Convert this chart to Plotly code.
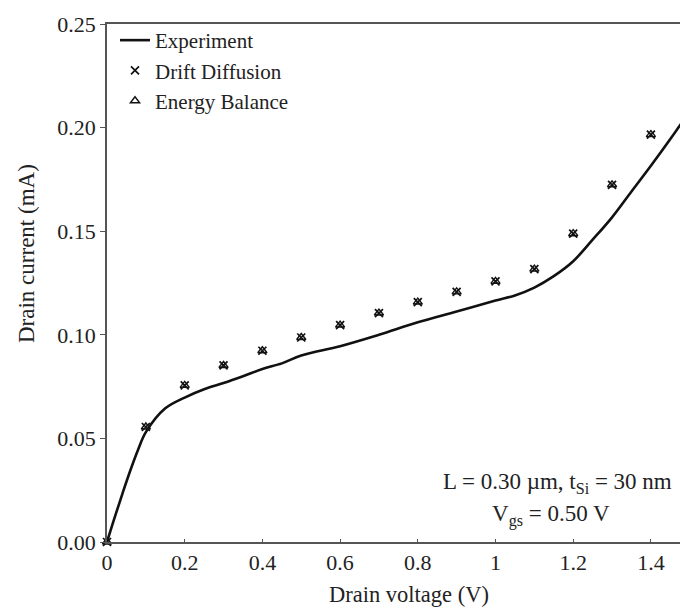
import plotly.graph_objects as go

# Experiment curve
exp_v = [0, 0.02, 0.04, 0.06, 0.08, 0.1, 0.15, 0.2, 0.25, 0.3, 0.35, 0.4, 0.45, 0.5, 0.6, 0.7,
         0.8, 0.9, 1.0, 1.05, 1.1, 1.15, 1.2, 1.25, 1.3, 1.35, 1.4, 1.45, 1.5]
exp_i = [0, 0.012, 0.0235, 0.0345, 0.0445, 0.053, 0.0645, 0.0697, 0.0737, 0.0767, 0.0800, 0.0835, 0.0862,
         0.0900, 0.0945, 0.1000, 0.1060, 0.1112, 0.1165, 0.1190, 0.1228, 0.1283, 0.1355, 0.1459,
         0.1567, 0.1692, 0.1816, 0.1945, 0.208]

# Simulations
sim_v = [0, 0.1, 0.2, 0.3, 0.4, 0.5, 0.6, 0.7, 0.8, 0.9, 1.0, 1.1, 1.2, 1.3, 1.4]
dd_i = [0, 0.0555, 0.0756, 0.0852, 0.0923, 0.0987, 0.1047, 0.1105, 0.1158, 0.1207, 0.1258,
        0.1317, 0.1488, 0.1724, 0.1966]
eb_i = [0, 0.0555, 0.0756, 0.0852, 0.0923, 0.0987, 0.1047, 0.1105, 0.1158, 0.1207, 0.1258,
        0.1317, 0.1488, 0.1724, 0.1966]

x_ticks = [0, 0.2, 0.4, 0.6, 0.8, 1.0, 1.2, 1.4]
x_tick_text = ["0", "0.2", "0.4", "0.6", "0.8", "1", "1.2", "1.4"]
y_ticks = [0, 0.05, 0.10, 0.15, 0.20, 0.25]
y_tick_text = ["0.00", "0.05", "0.10", "0.15", "0.20", "0.25"]

FONT = "Liberation Serif, Times New Roman, DejaVu Serif, serif"
TXT = "#222222"
AX = "#555555"

fig = go.Figure()
fig.add_trace(go.Scatter(x=exp_v, y=exp_i, mode="lines", name="Experiment",
                         line=dict(color="#111111", width=2.6, shape="spline", smoothing=1.0)))
fig.add_trace(go.Scatter(x=sim_v, y=dd_i, mode="markers", name="Drift Diffusion",
                         marker=dict(symbol="x-thin-open", size=8, color="#111111",
                                     line=dict(width=1.7, color="#111111")),
                         cliponaxis=False))
fig.add_trace(go.Scatter(x=sim_v, y=eb_i, mode="markers", name="Energy Balance",
                         marker=dict(symbol="triangle-up-open", size=8, color="#111111",
                                     line=dict(width=1.4, color="#111111")),
                         cliponaxis=False))

W, H = 680, 609
L, R, T, B = 107, 0, 24, 67

fig.update_layout(
    width=W, height=H,
    margin=dict(l=L, r=R, t=T, b=B),
    paper_bgcolor="white", plot_bgcolor="white",
    font=dict(family=FONT, size=22, color=TXT),
    showlegend=True,
    legend=dict(x=(115 - L) / (W - L - R), y=1.0 - (20 - T) / (H - T - B),
                xanchor="left", yanchor="top",
                bgcolor="rgba(0,0,0,0)", borderwidth=0,
                font=dict(family=FONT, size=21, color=TXT),
                tracegroupgap=0, itemwidth=30),
    xaxis=dict(range=[0, (W - L - R) / 388.5], tickvals=x_ticks, ticktext=x_tick_text,
               showline=True, linecolor=AX, linewidth=1.5, mirror=True,
               ticks="inside", ticklen=3, tickcolor=AX, showgrid=False, zeroline=False,
               tickfont=dict(family=FONT, size=22, color=TXT)),
    yaxis=dict(range=[0, 0.25], tickvals=y_ticks, ticktext=y_tick_text,
               showline=True, linecolor=AX, linewidth=1.5,
               ticks="outside", ticklen=5, tickcolor=AX, showgrid=False, zeroline=False,
               tickfont=dict(family=FONT, size=22, color=TXT)),
)

def px_x(p):
    return (p - L) / (W - L - R)

def px_y(p):
    return 1 - (p - T) / (H - T - B)

annotations = [
    dict(text="Drain voltage (V)", x=px_x(409), y=px_y(594), xref="paper", yref="paper",
         showarrow=False, xanchor="center", yanchor="middle", font=dict(family=FONT, size=22.5)),
    dict(text="Drain current (mA)", x=px_x(26), y=px_y(254), xref="paper", yref="paper",
         showarrow=False, xanchor="center", yanchor="middle", textangle=-90,
         font=dict(family=FONT, size=23)),
    dict(text="L = 0.30 µm, t<sub>Si</sub> = 30 nm", x=px_x(557), y=px_y(483), xref="paper",
         yref="paper", showarrow=False, xanchor="center", yanchor="middle",
         font=dict(family=FONT, size=23)),
    dict(text="V<sub>gs</sub> = 0.50 V", x=px_x(551), y=px_y(515), xref="paper",
         yref="paper", showarrow=False, xanchor="center", yanchor="middle",
         font=dict(family=FONT, size=23)),
]
fig.update_layout(annotations=annotations)

fig.write_html("out.html")
